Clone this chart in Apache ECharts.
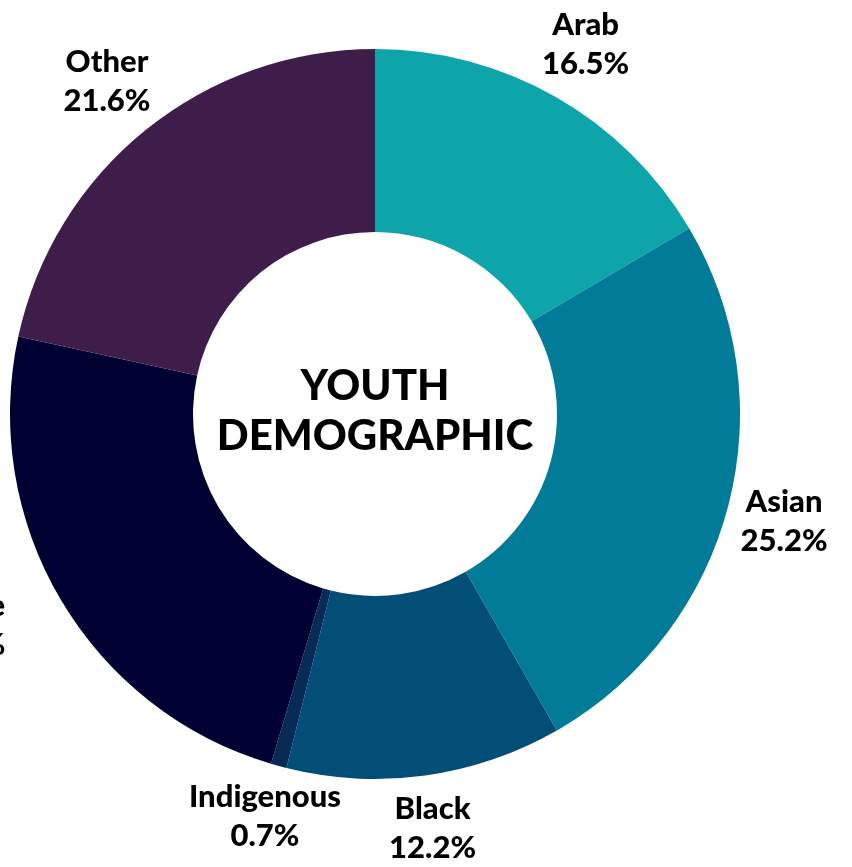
<!DOCTYPE html>
<html>
<head>
<meta charset="utf-8">
<script src="https://cdn.jsdelivr.net/npm/echarts@6/dist/echarts.min.js"></script>
<style>html,body{margin:0;padding:0;background:#fff}#c{width:852px;height:867px}</style>
</head>
<body>
<div id="c"></div>
<script>
const categories = ['Arab', 'Asian', 'Black', 'Indigenous', 'White', 'Other'];
const values = [16.5, 25.2, 12.2, 0.7, 23.8, 21.6];
const colors = ['#0da4aa', '#027b98', '#024e76', '#072b55', '#000032', '#3e1d4b'];
const labelDistances = [425, 423, 418, 417, 464, 427];
const labelAngleOffsets = [0, 0, 0, 0, 3.5, 0];
const centerTitle = 'YOUTH\nDEMOGRAPHIC';

const CX = 375, CY = 414, R_OUT = 365, R_IN = 182;
const total = values.reduce((a, b) => a + b, 0);
const midAngles = [];
let acc = 0;
values.forEach((v, i) => { midAngles.push((acc + v / 2) / total * 2 * Math.PI + labelAngleOffsets[i] * Math.PI / 180); acc += v; });

const chart = echarts.init(document.getElementById('c'), null, {renderer: 'canvas'});
chart.setOption({
  animation: false,
  backgroundColor: '#ffffff',
  graphic: [{
    type: 'text',
    x: CX, y: CY - 3,
    style: {
      text: centerTitle,
      x: 0, y: 0,
      align: 'center', verticalAlign: 'middle',
      font: '900 42px Lato',
      lineHeight: 50,
      fill: '#000'
    }
  }],
  series: [{
    type: 'pie',
    center: [CX, CY],
    radius: [R_IN, R_OUT],
    startAngle: 90,
    clockwise: true,
    avoidLabelOverlap: false,
    label: {
      show: true,
      position: 'outside',
      formatter: p => p.name + '\n' + p.value.toFixed(1) + '%',
      fontFamily: 'Lato',
      fontWeight: 900,
      fontSize: 31,
      lineHeight: 39,
      color: '#000',
      align: 'center'
    },
    labelLine: {show: false},
    labelLayout: params => {
      const i = params.dataIndex;
      const a = midAngles[i], d = labelDistances[i];
      return {
        x: CX + d * Math.sin(a),
        y: CY - d * Math.cos(a),
        align: 'center',
        verticalAlign: 'middle'
      };
    },
    itemStyle: {borderWidth: 0},
    emphasis: {disabled: true},
    data: categories.map((c, i) => ({name: c, value: values[i], itemStyle: {color: colors[i]}}))
  }]
});
</script>
</body>
</html>
